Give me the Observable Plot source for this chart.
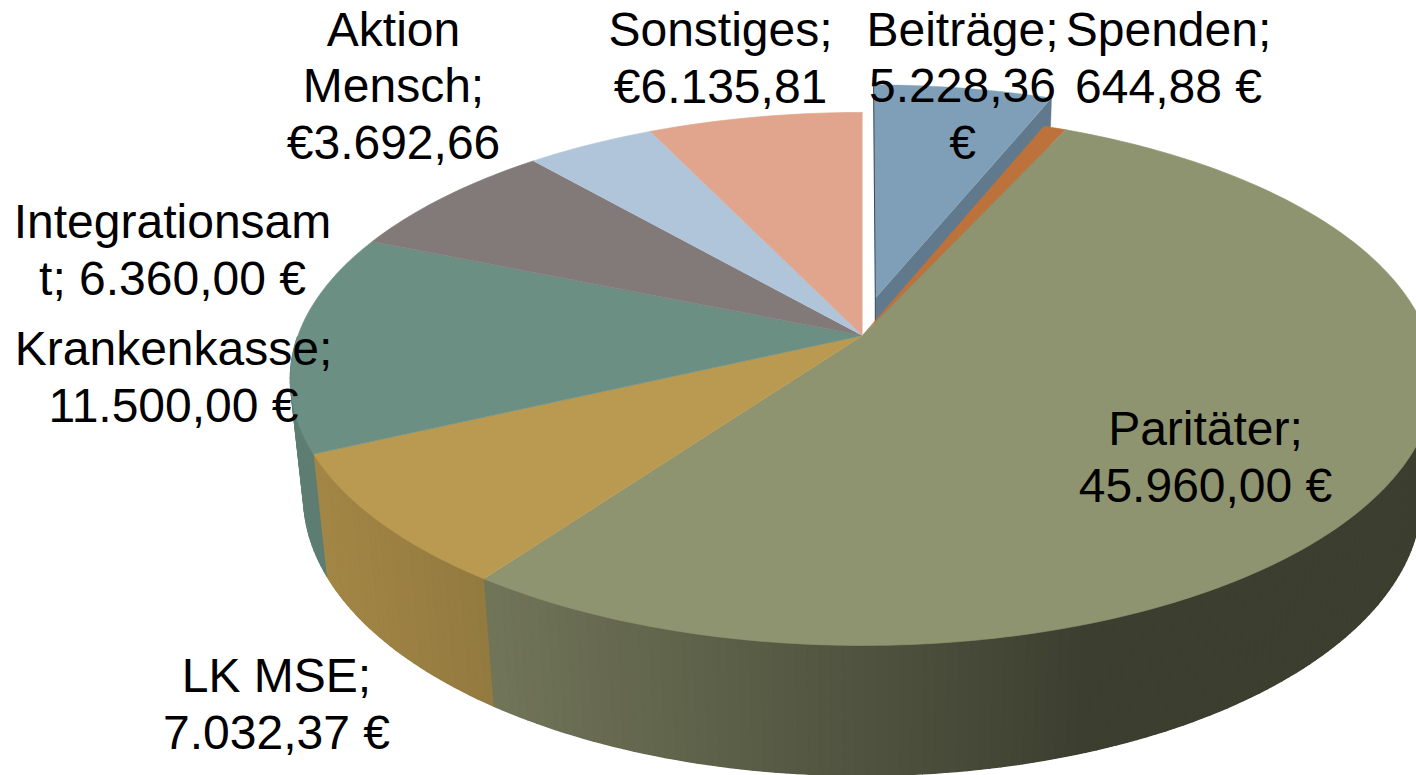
<!DOCTYPE html>
<html lang="de">
<head>
<meta charset="utf-8">
<script src="https://cdn.jsdelivr.net/npm/d3@7"></script>
<script src="https://cdn.jsdelivr.net/npm/@observablehq/plot@0.6"></script>
<style>
html,body{margin:0;padding:0;background:#fff;overflow:hidden}
svg{display:block}
</style>
</head>
<body>
<div id="chart"></div>
<script>
// Data, in pie order (clockwise from 12 o'clock)
const categories = ["Beiträge","Spenden","Paritäter","LK MSE","Krankenkasse","Integrationsamt","Aktion Mensch","Sonstiges"];
const values = [5228.36,644.88,45960.00,7032.37,11500.00,6360.00,3692.66,6135.81];
const labels = [
  "Beiträge;\n5.228,36\n€","Spenden;\n644,88 €","Paritäter;\n45.960,00 €","LK MSE;\n7.032,37 €",
  "Krankenkasse;\n11.500,00 €","Integrationsam\nt; 6.360,00 €","Aktion\nMensch;\n€3.692,66","Sonstiges;\n€6.135,81"
];
const colors = ["#7f9fb8","#bd723b","#8f9470","#ba9a50","#6b8f83","#827a79","#b0c5da","#e0a58c"];
const explode = [0.149,0,0,0,0,0,0,0];

// Layout of the page and of the tilted pie
const W = 1416, H = 775;
const cx = 862, cy = 335, R = 564.5, S = 259.4;  // pixels of one projected unit
const persp = 0.163, depth = 0.02305, vanishY = -19.9, explodeTurn = 0.033;
const labelCenters = [[962,84],[1168,56],[1205,455],[276,702],[173,375],[172,248],[393,84],[720,56]];
const invX = px => (px - cx) / R, invY = py => (cy - py) / S;

// Perspective projection of a point of the unit disc, at the top or the bottom face
function project(u, v, bottom = false) {
  const w = 1 + persp * v;
  const x = u / w, y = v / w;
  if (!bottom) return {x, y};
  const t = depth / (w + depth);
  return {x: x * (1 - t), y: y * (1 - t) + vanishY * t};
}
const arcs = d3.pie().sort(null).value(d => d)(values);
const rim = (a, ox, oy, bottom) => project(ox + Math.sin(a), oy + Math.cos(a), bottom);
const arcSteps = (a0, a1, n) => d3.range(n + 1).map(i => a0 + (a1 - a0) * i / n);
const facesViewer = a => Math.cos(a) < 0;  // the far part of the rim shows no wall

const tops = [], wallBase = [], walls = [], faces = [], edges = [];
const shade = d3.scaleLinear().domain([-1, -0.67, 0, 0.405]).range([0.88, 0.79, 0.56, 0.42]).clamp(true);
const dim = (color, s) => { const c = d3.rgb(color); return d3.rgb(c.r * s, c.g * s, c.b * s).formatHex(); };

arcs.forEach((arc, i) => {
  const mid = (arc.startAngle + arc.endAngle) / 2 - explodeTurn;
  const ox = explode[i] * Math.sin(mid), oy = explode[i] * Math.cos(mid);
  const n = Math.max(2, Math.ceil((arc.endAngle - arc.startAngle) / (Math.PI / 180)));
  const steps = arcSteps(arc.startAngle, arc.endAngle, n);
  // top face
  const key = categories[i];
  tops.push({key, fill: colors[i], ...project(ox, oy)});
  steps.forEach(a => tops.push({key, fill: colors[i], ...rim(a, ox, oy)}));
  if (explode[i] > 0) {
    // the cut face seen beside the pulled-out slice
    const f = dim(colors[i], 0.76), k = key + "-face";
    [project(ox, oy), rim(arc.endAngle, ox, oy), rim(arc.endAngle, ox, oy, true), project(ox, oy, true)]
      .forEach(p => faces.push({key: k, fill: f, ...p}));
    [rim(arc.startAngle, ox, oy), project(ox, oy), project(ox, oy, true)]
      .forEach(p => edges.push({key: k, ...p}));
  } else {
    // outer wall: a base band, then narrow strips so the shade can follow the curve
    const front = steps.filter(facesViewer);
    if (front.length < 2) return;
    const base = dim(colors[i], 0.6);
    front.forEach(a => wallBase.push({key, fill: base, ...rim(a, ox, oy)}));
    front.slice().reverse().forEach(a => wallBase.push({key, fill: base, ...rim(a, ox, oy, true)}));
    d3.pairs(front).forEach(([a, b], j) => {
      const s = dim(colors[i], shade(rim((a + b) / 2, ox, oy).x)), k = key + "-" + j;
      [rim(a, ox, oy), rim(b, ox, oy), rim(b, ox, oy, true), rim(a, ox, oy, true)]
        .forEach(p => walls.push({key: k, fill: s, ...p}));
    });
  }
});
const textRows = labels.map((text, i) => ({text, x: invX(labelCenters[i][0]), y: invY(labelCenters[i][1])}));

const poly = (data, sw) => Plot.line(data, {x: "x", y: "y", z: "key", fill: "fill", stroke: "fill", strokeWidth: sw, curve: "linear"});
const chart = Plot.plot({
  width: W, height: H, margin: 0,
  x: {domain: [invX(0), invX(W)], range: [0, W], axis: null},
  y: {domain: [invY(H), invY(0)], range: [H, 0], axis: null},
  color: {type: "identity"},
  style: {background: "#fff", fontFamily: "'Liberation Sans', Arial, sans-serif"},
  marks: [
    poly(faces, 0.3),
    poly(tops.filter(d => d.key === categories[0]), 0.3),
    Plot.line(edges, {x: "x", y: "y", z: "key", stroke: "#2f3d49", strokeWidth: 0.9}),
    Plot.line(wallBase, {x: "x", y: "y", z: "key", fill: "fill"}),
    poly(walls, 1.4),
    poly(tops.filter(d => d.key !== categories[0]), 0.7),
    Plot.text(textRows, {x: "x", y: "y", text: "text", fontSize: 48, lineHeight: 1.17, textAnchor: "middle", lineAnchor: "middle", fill: "#000"})
  ]
});
document.getElementById("chart").append(chart);
</script>
</body>
</html>
